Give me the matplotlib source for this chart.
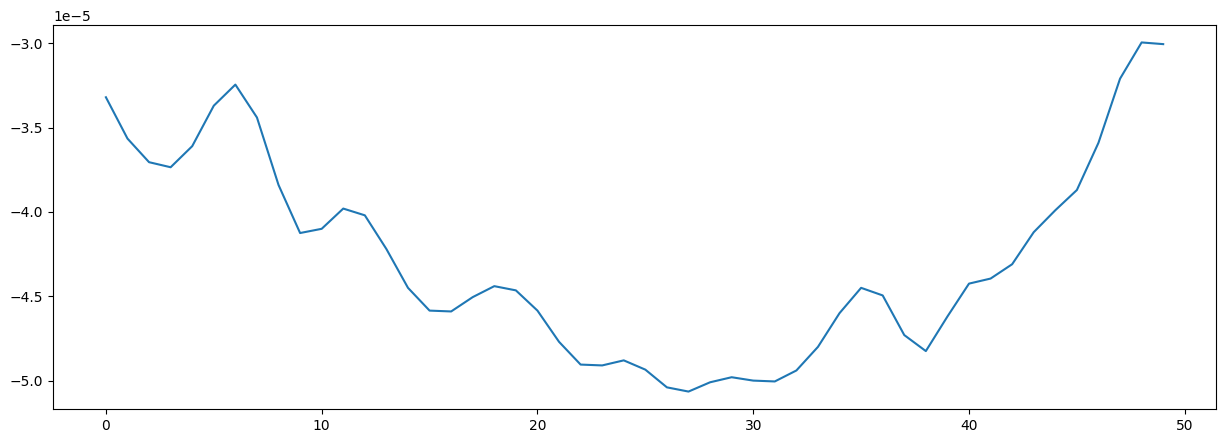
import numpy as np
import matplotlib
matplotlib.use('Agg')
import matplotlib.pyplot as plt

##### data (values in units of 1e-5)
steps = np.arange(50)
vals = [-3.32, -3.565, -3.705, -3.735, -3.61, -3.37, -3.245, -3.44, -3.84, -4.125,
        -4.10, -3.98, -4.02, -4.22, -4.45, -4.585, -4.59, -4.505, -4.44, -4.465,
        -4.585, -4.77, -4.905, -4.91, -4.88, -4.935, -5.04, -5.065, -5.01, -4.98,
        -5.00, -5.005, -4.94, -4.80, -4.60, -4.45, -4.495, -4.73, -4.825, -4.62,
        -4.425, -4.395, -4.31, -4.12, -3.99, -3.87, -3.59, -3.21, -2.995, -3.005]
series = np.array(vals) * 1e-5

##### plotting
plt.figure(figsize=[12.25, 4.43])
plt.plot(steps, series)
plt.subplots_adjust(left=0.0433, right=0.9927, top=0.9436, bottom=0.0767)
plt.savefig('out.png', dpi=100)
